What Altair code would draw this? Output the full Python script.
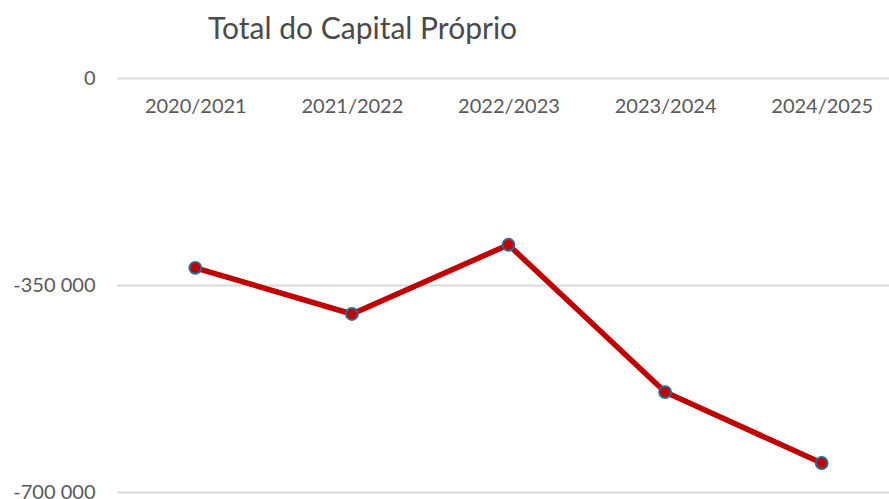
import altair as alt
import pandas as pd

categories = ["2020/2021", "2021/2022", "2022/2023", "2023/2024", "2024/2025"]
values = [-321000, -399000, -282000, -531000, -651000]

df = pd.DataFrame({"ano": categories, "valor": values})

font = "Lato"
text_color = "#595959"

x = alt.X("ano:N", sort=categories,
          scale=alt.Scale(paddingInner=0, paddingOuter=0, range=[0, 783]),
          axis=alt.Axis(orient="bottom", offset=-414, title=None, domain=False, ticks=False,
                        labelAngle=0, labelPadding=18, labelFontSize=20, labelFont=font,
                        labelColor=text_color, grid=False))
y = alt.Y("valor:Q", scale=alt.Scale(domain=[-700000, 0], nice=False),
          axis=alt.Axis(values=[0, -350000, -700000], title=None, domain=False, ticks=False,
                        labelPadding=22, labelFontSize=20, labelFont=font, labelColor=text_color,
                        labelExpr="replace(replace(format(datum.value, ',d'), ',', ' '), '\u2212', '-')",
                        grid=True, gridColor="#d9d9d9", gridWidth=2))

base = alt.Chart(df)
line = base.mark_line(color="#c00000", strokeWidth=5.5).encode(x=x, y=y)
pts = base.mark_point(filled=True, fill="#c00000", stroke="#2e6a92", strokeWidth=2,
                      size=140, opacity=1, shape="circle").encode(x=x, y=y)

chart = (line + pts).properties(
    width=772, height=414,
    title=alt.TitleParams("Total do Capital Próprio", anchor="start", frame="group", dx=91,
                          offset=23, fontSize=30, font=font, fontWeight="normal", color="#4a4a4a"),
    autosize=alt.AutoSizeParams(type="none"),
    padding={"left": 117, "top": 78, "right": 0, "bottom": 7},
).configure_view(stroke=None)

chart.save("out.html", embed_options={"renderer": "svg", "actions": False})
